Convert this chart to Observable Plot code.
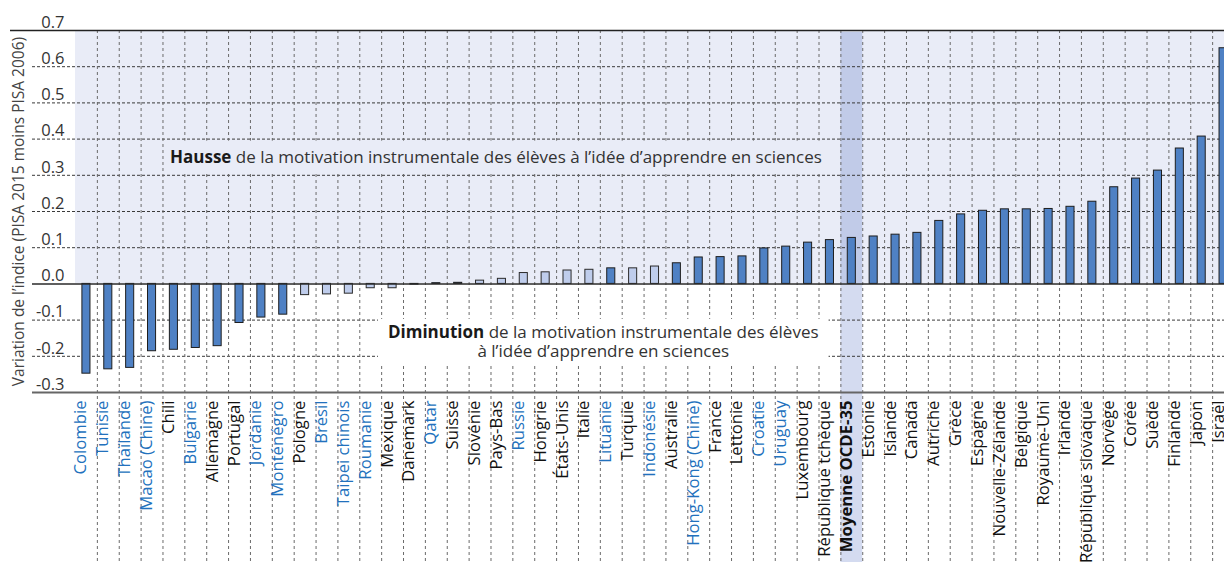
<!DOCTYPE html>
<html><head><meta charset="utf-8">
<script src="https://cdn.jsdelivr.net/npm/d3@7"></script>
<script src="https://cdn.jsdelivr.net/npm/@observablehq/plot@0.6"></script>
<style>html,body{margin:0;padding:0;background:#fff;overflow:hidden}#chart svg{display:block}</style>
</head><body><div id="chart"></div>
<script>
const countries = ["Colombie","Tunisie","Thaïlande","Macao (Chine)","Chili","Bulgarie","Allemagne","Portugal","Jordanie","Monténégro","Pologne","Brésil","Taipei chinois","Roumanie","Mexique","Danemark","Qatar","Suisse","Slovénie","Pays-Bas","Russie","Hongrie","États-Unis","Italie","Lituanie","Turquie","Indonésie","Australie","Hong-Kong (Chine)","France","Lettonie","Croatie","Uruguay","Luxembourg","République tchèque","Moyenne OCDE-35","Estonie","Islande","Canada","Autriche","Grèce","Espagne","Nouvelle-Zélande","Belgique","Royaume-Uni","Irlande","République slovaque","Norvège","Corée","Suède","Finlande","Japon","Israël"];
const values = [-0.248,-0.236,-0.232,-0.186,-0.182,-0.177,-0.172,-0.108,-0.093,-0.085,-0.031,-0.029,-0.027,-0.012,-0.012,-0.002,0.002,0.003,0.009,0.014,0.030,0.032,0.037,0.039,0.043,0.043,0.048,0.057,0.073,0.074,0.076,0.098,0.103,0.114,0.121,0.127,0.131,0.136,0.141,0.174,0.192,0.202,0.206,0.206,0.207,0.213,0.227,0.267,0.291,0.313,0.374,0.407,0.651];
const partners = ["Colombie","Tunisie","Thaïlande","Macao (Chine)","Bulgarie","Jordanie","Monténégro","Brésil","Taipei chinois","Roumanie","Qatar","Russie","Lituanie","Indonésie","Hong-Kong (Chine)","Croatie","Uruguay"];
const notSignificant = ["Pologne","Brésil","Taipei chinois","Roumanie","Mexique","Slovénie","Pays-Bas","Russie","Hongrie","États-Unis","Italie","Turquie","Indonésie"];
const oecdAverage = "Moyenne OCDE-35";
const yTicks = [-0.3,-0.2,-0.1,0.0,0.1,0.2,0.3,0.4,0.5,0.6,0.7];
const gridValues = [-0.2,-0.1,0.1,0.2,0.3,0.4,0.5,0.6];
const yTitle = "Variation de l’indice (PISA 2015 moins PISA 2006)";
const hausseBold = "Hausse";
const hausseText = "Hausse de la motivation instrumentale des élèves à l’idée d’apprendre en sciences";
const diminutionBold = "Diminution";
const diminutionText = "Diminution de la motivation instrumentale des élèves\nà l’idée d’apprendre en sciences";

const data = countries.map((c, i) => ({country: c, value: values[i], partner: partners.includes(c), light: notSignificant.includes(c)}));

const FONT = "Open Sans";
const xRange = [75, 1234];
const step = (xRange[1] - xRange[0]) / countries.length;

const plot = Plot.plot({
  width: 1224,
  height: 562,
  marginTop: 30,
  marginBottom: 170,
  marginLeft: 32,
  marginRight: 0,
  style: {fontFamily: FONT, fontSize: "15px", background: "white", overflow: "hidden"},
  x: {type: "band", domain: countries, range: xRange, padding: 0, axis: null},
  y: {domain: [-0.3, 0.7], axis: null},
  marks: [
    Plot.barY(countries, {x: d => d, y1: 0, y2: 0.7, fill: "#e9ecf7", shapeRendering: "crispEdges"}),
    Plot.barY([oecdAverage], {x: d => d, y1: 0, y2: 0.7, fill: "#c1cbe8", insetTop: 2}),
    Plot.barY([oecdAverage], {x: d => d, y1: -0.3, y2: 0, fill: "#d4dbf0", insetBottom: -170}),
    Plot.ruleY(gridValues, {stroke: "#3a3a3a", strokeWidth: 1, strokeDasharray: "3,2"}),
    Plot.ruleX(countries, {x: d => d, dx: step / 2, stroke: "#6a6a6a", strokeWidth: 1, strokeDasharray: "3,3", insetBottom: -170}),
    Plot.text([hausseText], {ariaDescription: "hausse", x: () => "Pays-Bas", y: () => 0.35, text: d => d, dx: -6, fill: "#333", fontSize: 17}),
    Plot.text([diminutionText], {ariaDescription: "diminution", x: () => "Lituanie", y: () => -0.16, text: d => d, dx: -8, fill: "#333", fontSize: 17, lineHeight: 1.12}),
    Plot.barY(data, {filter: d => !d.light, x: "country", y: "value", fill: "#4f81c4", stroke: "#1e1e1e", strokeWidth: 1, insetLeft: 6.9, insetRight: 6.9}),
    Plot.barY(data, {filter: d => d.light, x: "country", y: "value", fill: "#bfcdec", stroke: "#2a2a2a", strokeWidth: 1, insetLeft: 6.9, insetRight: 6.9}),
    Plot.ruleY([0], {stroke: "#2a2a2a", strokeWidth: 1.5}),
    Plot.ruleY([0.7], {stroke: "#222", strokeWidth: 1.5, insetLeft: -22}),
    Plot.ruleY([-0.3], {stroke: "#666", strokeWidth: 2}),
    Plot.text(yTicks, {y: d => d, text: d => d.toFixed(1), frameAnchor: "left", textAnchor: "end", dx: 32, dy: -8, fill: "#333", fontSize: 16.5}),
    Plot.text([yTitle], {text: d => d, frameAnchor: "left", textAnchor: "middle", rotate: -90, dx: -13, fill: "#444", fontSize: 15.5}),
    Plot.text(data, {filter: d => d.partner, x: "country", text: "country", frameAnchor: "bottom", rotate: -90, textAnchor: "end", dy: 8, fill: "#2271bd", fontSize: 16.7}),
    Plot.text(data, {filter: d => !d.partner && d.country !== oecdAverage, x: "country", text: "country", frameAnchor: "bottom", rotate: -90, textAnchor: "end", dy: 8, fill: "#111", fontSize: 16.7}),
    Plot.text(data, {filter: d => d.country === oecdAverage, x: "country", text: "country", frameAnchor: "bottom", rotate: -90, textAnchor: "end", dy: 8, fill: "#111", fontSize: 16.7, fontWeight: "bold"})
  ]
});

document.getElementById("chart").append(plot);

const NS = "http://www.w3.org/2000/svg";
function styleAnnotation(label, prefix, fill, padX, padY) {
  let g = plot.querySelector(`[aria-description="${label}"]`);
  if (!g) return;
  if (g.tagName.toLowerCase() !== "g") g = g.parentNode;
  const text = g.querySelector("text");
  const line = text.querySelector("tspan");
  const b = document.createElementNS(NS, "tspan");
  b.setAttribute("font-weight", "bold");
  b.setAttribute("fill", "#1a1a1a");
  b.textContent = prefix;
  const r = document.createElementNS(NS, "tspan");
  if (line) {
    for (const a of ["x", "y", "dy"]) if (line.hasAttribute(a)) b.setAttribute(a, line.getAttribute(a));
    r.textContent = line.textContent.slice(prefix.length);
    line.replaceWith(b, r);
  } else {
    r.textContent = text.textContent.slice(prefix.length);
    text.textContent = "";
    text.append(b, r);
  }
  const bb = g.getBBox();
  const rect = document.createElementNS(NS, "rect");
  rect.setAttribute("x", bb.x - padX);
  rect.setAttribute("y", bb.y - padY);
  rect.setAttribute("width", bb.width + 2 * padX);
  rect.setAttribute("height", bb.height + 2 * padY);
  rect.setAttribute("fill", fill);
  g.insertBefore(rect, g.firstChild);
}
styleAnnotation("hausse", hausseBold, "#e9ecf7", 6, 4);
styleAnnotation("diminution", diminutionBold, "#ffffff", 10, 1.5);
</script>
</body></html>
